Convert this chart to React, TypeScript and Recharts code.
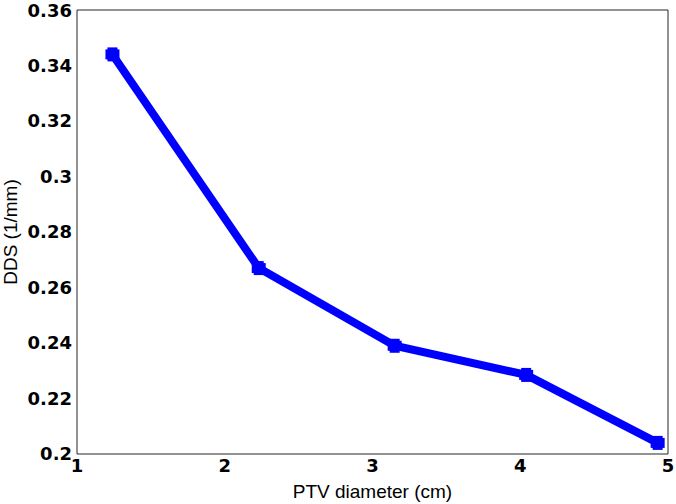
import { LineChart, Line, XAxis, YAxis, Label } from "recharts";

const diameters = [1.24, 2.23, 3.15, 4.04, 4.93];
const ddsValues = [0.344, 0.267, 0.239, 0.2285, 0.204];
const xTicks = [1, 2, 3, 4, 5];
const yTicks = [0.2, 0.22, 0.24, 0.26, 0.28, 0.3, 0.32, 0.34, 0.36];

const data = diameters.map((d, i) => ({ diameter: d, dds: ddsValues[i] }));

const titleFont = "Liberation Sans, Arial, sans-serif";
const axisColor = "#262626";
const tickStyle = { fill: "#000", fontSize: 18, fontWeight: 700, fontFamily: "DejaVu Sans, sans-serif" };
const titleStyle = { fill: "#000", fontSize: 19, fontFamily: titleFont };

// MATLAB-ish plus marker drawn thick
const PlusDot = (props: any) => {
  const { cx, cy } = props;
  if (cx == null || cy == null) return null;
  return (
    <g fill="#0000ff">
      <rect x={cx - 7} y={cy - 5} width={14} height={10} />
      <rect x={cx - 5} y={cy - 7} width={10} height={14} />
    </g>
  );
};

export default function App() {
  return (
    <div style={{ position: "absolute", left: 0, top: 0, width: 676, height: 504, background: "#fff" }}>
      <LineChart width={676} height={504} data={data} margin={{ top: 10, right: 8, bottom: 0, left: 0 }}>
        <XAxis
          dataKey="diameter"
          type="number"
          domain={[1, 5]}
          ticks={xTicks}
          allowDataOverflow
          height={50}
          tickLine={false}
          tickSize={0}
          tickMargin={5}
          axisLine={{ stroke: axisColor }}
          tick={tickStyle}
        >
          <Label value="PTV diameter (cm)" position="insideBottom" offset={6} style={titleStyle} />
        </XAxis>
        <YAxis
          dataKey="dds"
          type="number"
          domain={[0.2, 0.36]}
          ticks={yTicks}
          allowDataOverflow
          width={77}
          tickLine={false}
          tickSize={0}
          tickMargin={5}
          axisLine={{ stroke: axisColor }}
          tick={tickStyle}
        >
          <Label
            value="DDS (1/mm)"
            angle={-90}
            position="insideLeft"
            offset={10}
            style={{ ...titleStyle, textAnchor: "middle" }}
          />
        </YAxis>
        {/* inward ticks + box frame */}
        <XAxis xAxisId="bIn" type="number" domain={[1, 5]} ticks={xTicks} allowDataOverflow orientation="bottom" mirror tick={false} tickSize={5} axisLine={false} tickLine={{ stroke: axisColor }} />
        <XAxis xAxisId="top" type="number" domain={[1, 5]} ticks={xTicks} allowDataOverflow orientation="top" mirror tick={false} tickSize={5} axisLine={{ stroke: axisColor }} tickLine={{ stroke: axisColor }} />
        <YAxis yAxisId="lIn" type="number" domain={[0.2, 0.36]} ticks={yTicks} allowDataOverflow orientation="left" mirror tick={false} tickSize={5} axisLine={false} tickLine={{ stroke: axisColor }} />
        <YAxis yAxisId="right" type="number" domain={[0.2, 0.36]} ticks={yTicks} allowDataOverflow orientation="right" mirror tick={false} tickSize={5} axisLine={{ stroke: axisColor }} tickLine={{ stroke: axisColor }} />
        <Line
          dataKey="dds"
          type="linear"
          stroke="#0000ff"
          strokeWidth={8}
          dot={<PlusDot />}
          activeDot={false}
          isAnimationActive={false}
        />
      </LineChart>
    </div>
  );
}
